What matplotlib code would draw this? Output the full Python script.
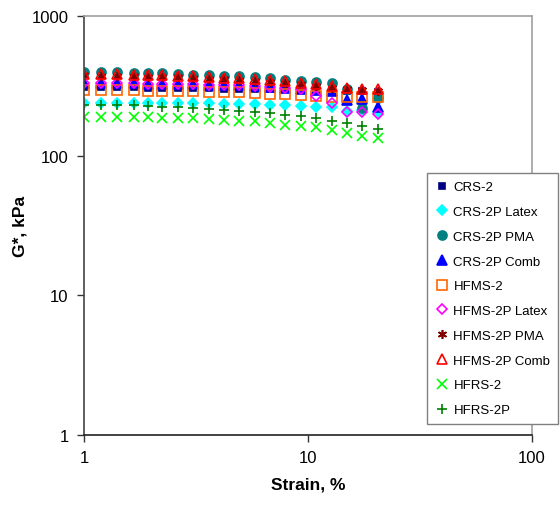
# G* vs strain, log-log scatter
import matplotlib.pyplot as plt
from matplotlib.ticker import FixedLocator, FixedFormatter, NullLocator

plt.rcParams['font.family'] = ['Liberation Sans', 'DejaVu Sans']

# strain levels (%)
strain = [1.00, 1.19, 1.41, 1.67, 1.94, 2.24, 2.62, 3.07, 3.62, 4.22,
          4.93, 5.78, 6.77, 7.93, 9.30, 10.9, 12.8, 14.9, 17.5, 20.5]

# G*, kPa
crs2 = [310, 310, 309, 308, 307, 306, 305, 304, 303, 302,
        301, 300, 300, 299, 298, 296, 294, 292, 290, 288]
crs2p_latex = [238, 238, 238, 238, 240, 240, 240, 238, 237, 236,
               236, 234, 232, 230, 228, 224, 222, 209, 212, 205]
crs2p_pma = [397, 396, 394, 392, 390, 388, 385, 381, 377, 373,
             369, 364, 358, 351, 343, 336, 331, 300, 218, 258]
crs2p_comb = [331, 331, 330, 329, 328, 327, 326, 325, 323, 321,
              318, 315, 311, 306, 300, 295, 290, 252, 255, 223]
hfms2 = [295, 295, 294, 293, 292, 291, 290, 289, 287, 285,
         284, 281, 276, 275, 273, 267, 264, 262, 262, 262]
hfms2p_latex = [331, 331, 330, 329, 328, 327, 326, 325, 323, 321,
                318, 315, 311, 306, 300, 267, 240, 206, 207, 199]
hfms2p_pma = [375, 374, 372, 370, 368, 366, 363, 360, 356, 352,
              348, 344, 338, 332, 325, 316, 306, 298, 296, 292]
hfms2p_comb = [385, 384, 382, 380, 378, 376, 372, 370, 366, 362,
               358, 354, 348, 342, 334, 324, 314, 306, 302, 298]
hfrs2 = [189, 189, 189, 189, 188, 186, 186, 185, 183, 180,
         178, 176, 170, 167, 164, 160, 153, 145, 139, 134]
hfrs2p = [231, 231, 231, 229, 228, 223, 222, 219, 216, 213,
          209, 206, 201, 195, 192, 186, 177, 171, 163, 155]

labels = ["CRS-2", "CRS-2P Latex", "CRS-2P PMA", "CRS-2P Comb", "HFMS-2",
          "HFMS-2P Latex", "HFMS-2P PMA", "HFMS-2P Comb", "HFRS-2", "HFRS-2P"]
series = [crs2, crs2p_latex, crs2p_pma, crs2p_comb, hfms2,
          hfms2p_latex, hfms2p_pma, hfms2p_comb, hfrs2, hfrs2p]

# (marker, face, edge, size)
styles = [
    ('s', '#000080', '#000080', 5),
    ('D', '#00ffff', '#00ffff', 5.5),
    ('o', '#008080', '#008080', 6.5),
    ('^', '#0000ff', '#0000ff', 6.5),
    ('s', 'none', '#ff6600', 6.5),
    ('D', 'none', '#ff00ff', 5.5),
    ((6, 2, 0), '#800000', '#800000', 6.5),   # asterisk
    ('^', 'none', '#ff0000', 7),
    ('x', '#00ff00', '#00ff00', 7),
    ('+', '#008000', '#008000', 7.5),
]

fig = plt.figure(figsize=(5.6, 5.06), dpi=100)
ax = fig.add_axes([0.15, 0.1383, 0.80, 0.8281])

for vals, lab, (m, fc, ec, ms) in zip(series, labels, styles):
    ax.plot(strain, vals, linestyle='none', marker=m, ms=ms,
            mfc=fc, mec=ec, mew=1.2, label=lab)

ax.set_xscale('log')
ax.set_yscale('log')
ax.set_xlim(1, 100)
ax.set_ylim(1, 1000)

ax.xaxis.set_major_locator(FixedLocator([1, 10, 100]))
ax.xaxis.set_major_formatter(FixedFormatter(['1', '10', '100']))
ax.yaxis.set_major_locator(FixedLocator([1, 10, 100, 1000]))
ax.yaxis.set_major_formatter(FixedFormatter(['1', '10', '100', '1000']))
ax.xaxis.set_minor_locator(NullLocator())
ax.yaxis.set_minor_locator(NullLocator())
ax.tick_params(direction='out', length=5, width=1, labelsize=12,
               color='#333333', pad=6)

ax.spines['left'].set_color('#444444')
ax.spines['bottom'].set_color('#222222')
ax.spines['top'].set_color('#a0a0a0')
ax.spines['right'].set_color('#a0a0a0')
for s in ax.spines.values():
    s.set_linewidth(1.2)

ax.set_xlabel("Strain, %", fontsize=12.5, fontweight='bold', labelpad=8)
ax.set_ylabel("G*, kPa", fontsize=12.5, fontweight='bold', labelpad=3)

leg = fig.legend(loc='upper left', bbox_to_anchor=(0.7625, 0.656),
                 borderaxespad=0, fontsize=9.5, numpoints=1,
                 handlelength=1.0, handletextpad=0.4, labelspacing=0.95,
                 borderpad=0.6, fancybox=False, framealpha=1,
                 edgecolor='#808080')
leg.get_frame().set_linewidth(1.0)

fig.savefig('out.png', dpi=100)
